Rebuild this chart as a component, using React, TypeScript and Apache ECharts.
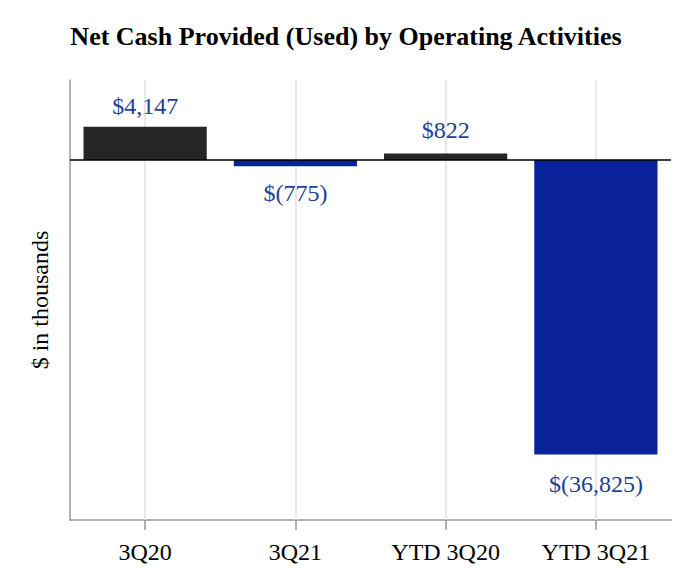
import React, { useEffect, useRef } from "react";
import * as echarts from "echarts";

const categories = ["3Q20", "3Q21", "YTD 3Q20", "YTD 3Q21"];
const values = [4147, -775, 822, -36825];
const labels = ["$4,147", "$(775)", "$822", "$(36,825)"];
const barColors = ["#262626", "#0a2299", "#262626", "#0a2299"];
const labelDistances = [9, 15, 11, 17];

const FONT = "'Liberation Serif', 'Times New Roman', serif";

export default function App() {
  const ref = useRef<HTMLDivElement>(null);
  useEffect(() => {
    if (!ref.current) return;
    const chart = echarts.init(ref.current, undefined, { renderer: "svg" });
    chart.setOption({
      animation: false,
      backgroundColor: "#ffffff",
      title: {
        text: "Net Cash Provided (Used) by Operating Activities",
        left: "center",
        top: 18,
        textStyle: { fontFamily: FONT, fontWeight: "bold", fontSize: 26, color: "#000" },
      },
      grid: { left: 70, right: 21, top: 80, bottom: 66 },
      xAxis: {
        type: "category",
        data: categories,
        axisLine: { show: true, onZero: false, lineStyle: { color: "#999", width: 1.5 } },
        axisTick: { show: true, alignWithLabel: true, length: 10, lineStyle: { color: "#999", width: 1.5 } },
        axisLabel: { fontFamily: FONT, fontSize: 24, color: "#000", margin: 20 },
        splitLine: { show: false },
      },
      yAxis: {
        type: "value",
        min: -45000,
        max: 10000,
        name: "$ in thousands",
        nameLocation: "middle",
        nameGap: 18,
        nameTextStyle: { fontFamily: FONT, fontSize: 24, color: "#000" },
        axisLine: { show: true, lineStyle: { color: "#999", width: 1.5 } },
        axisTick: { show: false },
        axisLabel: { show: false },
        splitLine: { show: false },
      },
      series: [
        {
          type: "line",
          data: categories.map(() => null),
          showSymbol: false,
          silent: true,
          z: 1,
          markLine: {
            silent: true,
            z: 1,
            symbol: "none",
            label: { show: false },
            lineStyle: { color: "#e2e2e2", width: 1.5, type: "solid" },
            data: categories.map((c) => ({ xAxis: c })),
          },
        },
        {
          type: "bar",
          z: 3,
          barCategoryGap: "18%",
          data: values.map((v, i) => ({
            value: v,
            itemStyle: { color: barColors[i] },
            label: {
              show: true,
              position: v >= 0 ? "top" : "bottom",
              distance: labelDistances[i],
              formatter: () => labels[i],
              fontFamily: FONT,
              fontSize: 24,
              color: "#1f4196",
            },
          })),
          markLine: {
            silent: true,
            symbol: "none",
            label: { show: false },
            lineStyle: { color: "#000", width: 1.5, type: "solid" },
            data: [{ yAxis: 0 }],
            z: 5,
          },
        },
      ],
    });
    return () => chart.dispose();
  }, []);
  return <div ref={ref} style={{ width: 692, height: 586, position: "absolute", left: 0, top: 0 }} />;
}
